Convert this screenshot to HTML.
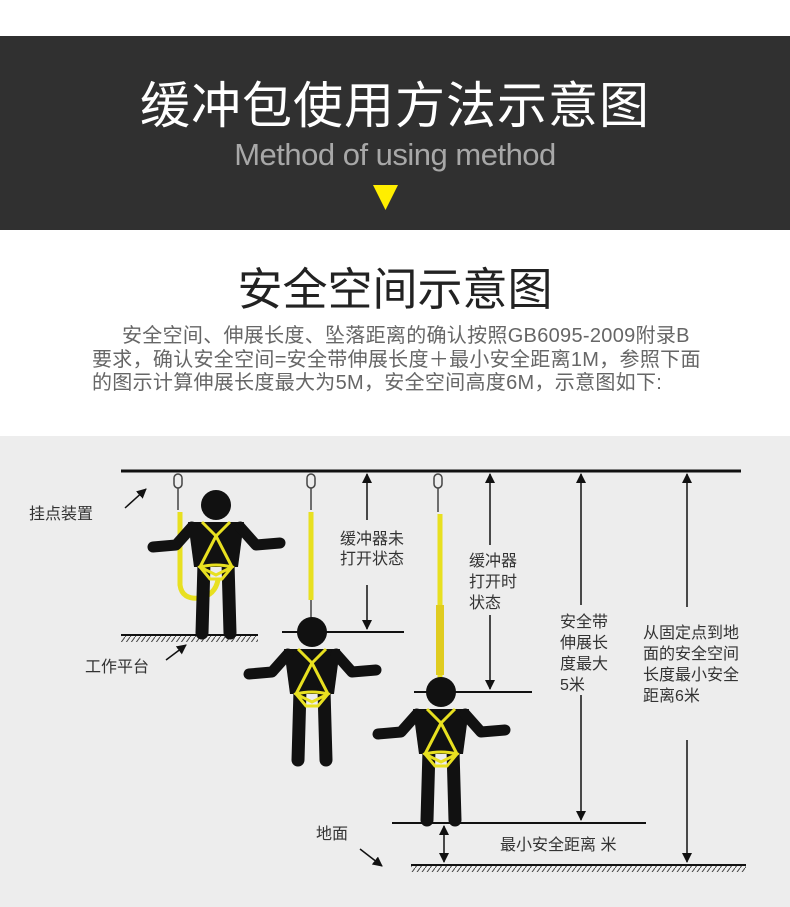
<!DOCTYPE html>
<html><head><meta charset="utf-8"><style>
body{margin:0;width:790px;height:907px;background:#fff;position:relative;overflow:hidden;font-family:"Liberation Sans","Noto Sans CJK SC",sans-serif}
.band{position:absolute;left:0;top:36px;width:790px;height:194px;background:#303030}
.t1{position:absolute;left:0;width:790px;top:76px;text-align:center;color:#fff;font-size:50px;line-height:60px;letter-spacing:1px}
.t2{position:absolute;left:0;width:790px;top:136px;text-align:center;color:#a8a8a8;font-size:31px;line-height:38px;letter-spacing:-0.5px}
.t3{position:absolute;left:0;width:790px;top:262px;text-align:center;color:#222;font-size:45px;line-height:56px}
.p{position:absolute;left:92px;color:#666;font-size:20px;line-height:23px;white-space:nowrap;letter-spacing:0.3px}
</style></head><body>
<div class="band"></div>
<div class="t1">缓冲包使用方法示意图</div>
<div class="t2">Method of using method</div>
<svg style="position:absolute;left:0;top:0" width="790" height="240"><polygon points="373,185 398,185 385.5,210" fill="#ffee00"/></svg>
<div class="t3">安全空间示意图</div>
<div class="p" style="top:325px;left:122px">安全空间、伸展长度、坠落距离的确认按照GB6095-2009附录B</div>
<div class="p" style="top:349px">要求，确认安全空间=安全带伸展长度＋最小安全距离1M，参照下面</div>
<div class="p" style="top:372px">的图示计算伸展长度最大为5M，安全空间高度6M，示意图如下:</div>
<svg style="position:absolute;left:0;top:0" width="790" height="907" font-family="Liberation Sans, Noto Sans CJK SC, sans-serif">
<defs>
<marker id="a" markerWidth="10" markerHeight="10" refX="9" refY="5" orient="auto" markerUnits="userSpaceOnUse"><path d="M0,0 L10,5 L0,10 z" fill="#111"/></marker>
<pattern id="h" width="5" height="7" patternUnits="userSpaceOnUse"><line x1="5" y1="0" x2="0" y2="7" stroke="#444" stroke-width="1"/></pattern>
<g id="fig">
<circle cx="0" cy="0" r="15" fill="#111"/>
<polygon points="-28,17 28,17 22,62 -22,62" fill="#111"/>
<polyline points="-24,22 -40,40 -63,42" fill="none" stroke="#111" stroke-width="11" stroke-linecap="round" stroke-linejoin="round"/>
<polyline points="24,22 40,40 64,38" fill="none" stroke="#111" stroke-width="11" stroke-linecap="round" stroke-linejoin="round"/>
<line x1="-12" y1="58" x2="-14" y2="128" stroke="#111" stroke-width="13" stroke-linecap="round"/>
<line x1="12" y1="58" x2="14" y2="128" stroke="#111" stroke-width="13" stroke-linecap="round"/>
<polyline points="-14,17 0,31 14,17" fill="none" stroke="#e8e020" stroke-width="3"/>
<polyline points="0,31 -16,62 0,70 16,62 0,31" fill="none" stroke="#e8e020" stroke-width="3"/>
<path d="M-16,62 Q0,58 16,62 L6,74 L-6,74 Z" fill="none" stroke="#e8e020" stroke-width="3"/>
</g>
</defs>
<rect x="0" y="436" width="790" height="471" fill="#ededed"/>
<line x1="121" y1="471" x2="741" y2="471" stroke="#111" stroke-width="3"/>
<line x1="121" y1="635" x2="258" y2="635" stroke="#111" stroke-width="2"/>
<rect x="121" y="636" width="137" height="6" fill="url(#h)"/>
<line x1="282" y1="632" x2="404" y2="632" stroke="#111" stroke-width="2"/>
<line x1="414" y1="692" x2="532" y2="692" stroke="#111" stroke-width="2"/>
<line x1="392" y1="823" x2="646" y2="823" stroke="#111" stroke-width="2"/>
<line x1="411" y1="865" x2="746" y2="865" stroke="#111" stroke-width="2"/>
<rect x="411" y="866" width="335" height="6" fill="url(#h)"/>
<g fill="none" stroke="#444" stroke-width="1.5">
<rect x="174" y="474" width="8" height="14" rx="4"/><line x1="178" y1="488" x2="178" y2="510"/>
<rect x="307" y="474" width="8" height="14" rx="4"/><line x1="311" y1="488" x2="311" y2="510"/><line x1="311" y1="600" x2="311" y2="620"/>
<rect x="434" y="474" width="8" height="14" rx="4"/><line x1="438" y1="488" x2="438" y2="512"/>
</g>
<path d="M180,512 L180,585 Q182,600 200,598 Q215,595 218,580" fill="none" stroke="#e8e020" stroke-width="5"/>
<line x1="311" y1="512" x2="311" y2="600" stroke="#e8e020" stroke-width="5"/>
<line x1="440" y1="514" x2="440" y2="678" stroke="#e8e020" stroke-width="5"/>
<line x1="440" y1="605" x2="440" y2="675" stroke="#e0cc20" stroke-width="8"/>
<use href="#fig" x="216" y="505"/>
<use href="#fig" x="312" y="632"/>
<use href="#fig" x="441" y="692"/>
<g stroke="#111" stroke-width="1.5" marker-end="url(#a)">
<line x1="367" y1="520" x2="367" y2="474"/><line x1="367" y1="585" x2="367" y2="629"/>
<line x1="490" y1="545" x2="490" y2="474"/><line x1="490" y1="615" x2="490" y2="689"/>
<line x1="581" y1="605" x2="581" y2="474"/><line x1="581" y1="695" x2="581" y2="820"/>
<line x1="687" y1="607" x2="687" y2="474"/><line x1="687" y1="740" x2="687" y2="862"/>
<line x1="444" y1="845" x2="444" y2="826"/><line x1="444" y1="845" x2="444" y2="862"/>
<line x1="125" y1="508" x2="146" y2="489"/><line x1="166" y1="660" x2="186" y2="645"/><line x1="360" y1="849" x2="382" y2="866"/>
</g>
<g fill="#333" font-size="16">
<text x="29" y="519">挂点装置</text>
<text x="85" y="672">工作平台</text>
<text x="316" y="839">地面</text>
<text x="340" y="544">缓冲器未</text><text x="340" y="564">打开状态</text>
<text x="469" y="566">缓冲器</text><text x="469" y="587">打开时</text><text x="469" y="608">状态</text>
<text x="560" y="627">安全带</text><text x="560" y="648">伸展长</text><text x="560" y="669">度最大</text><text x="560" y="690">5米</text>
<text x="643" y="638">从固定点到地</text><text x="643" y="659">面的安全空间</text><text x="643" y="680">长度最小安全</text><text x="643" y="701">距离6米</text>
<text x="500" y="850">最小安全距离 米</text>
</g>
</svg>
</body></html>
